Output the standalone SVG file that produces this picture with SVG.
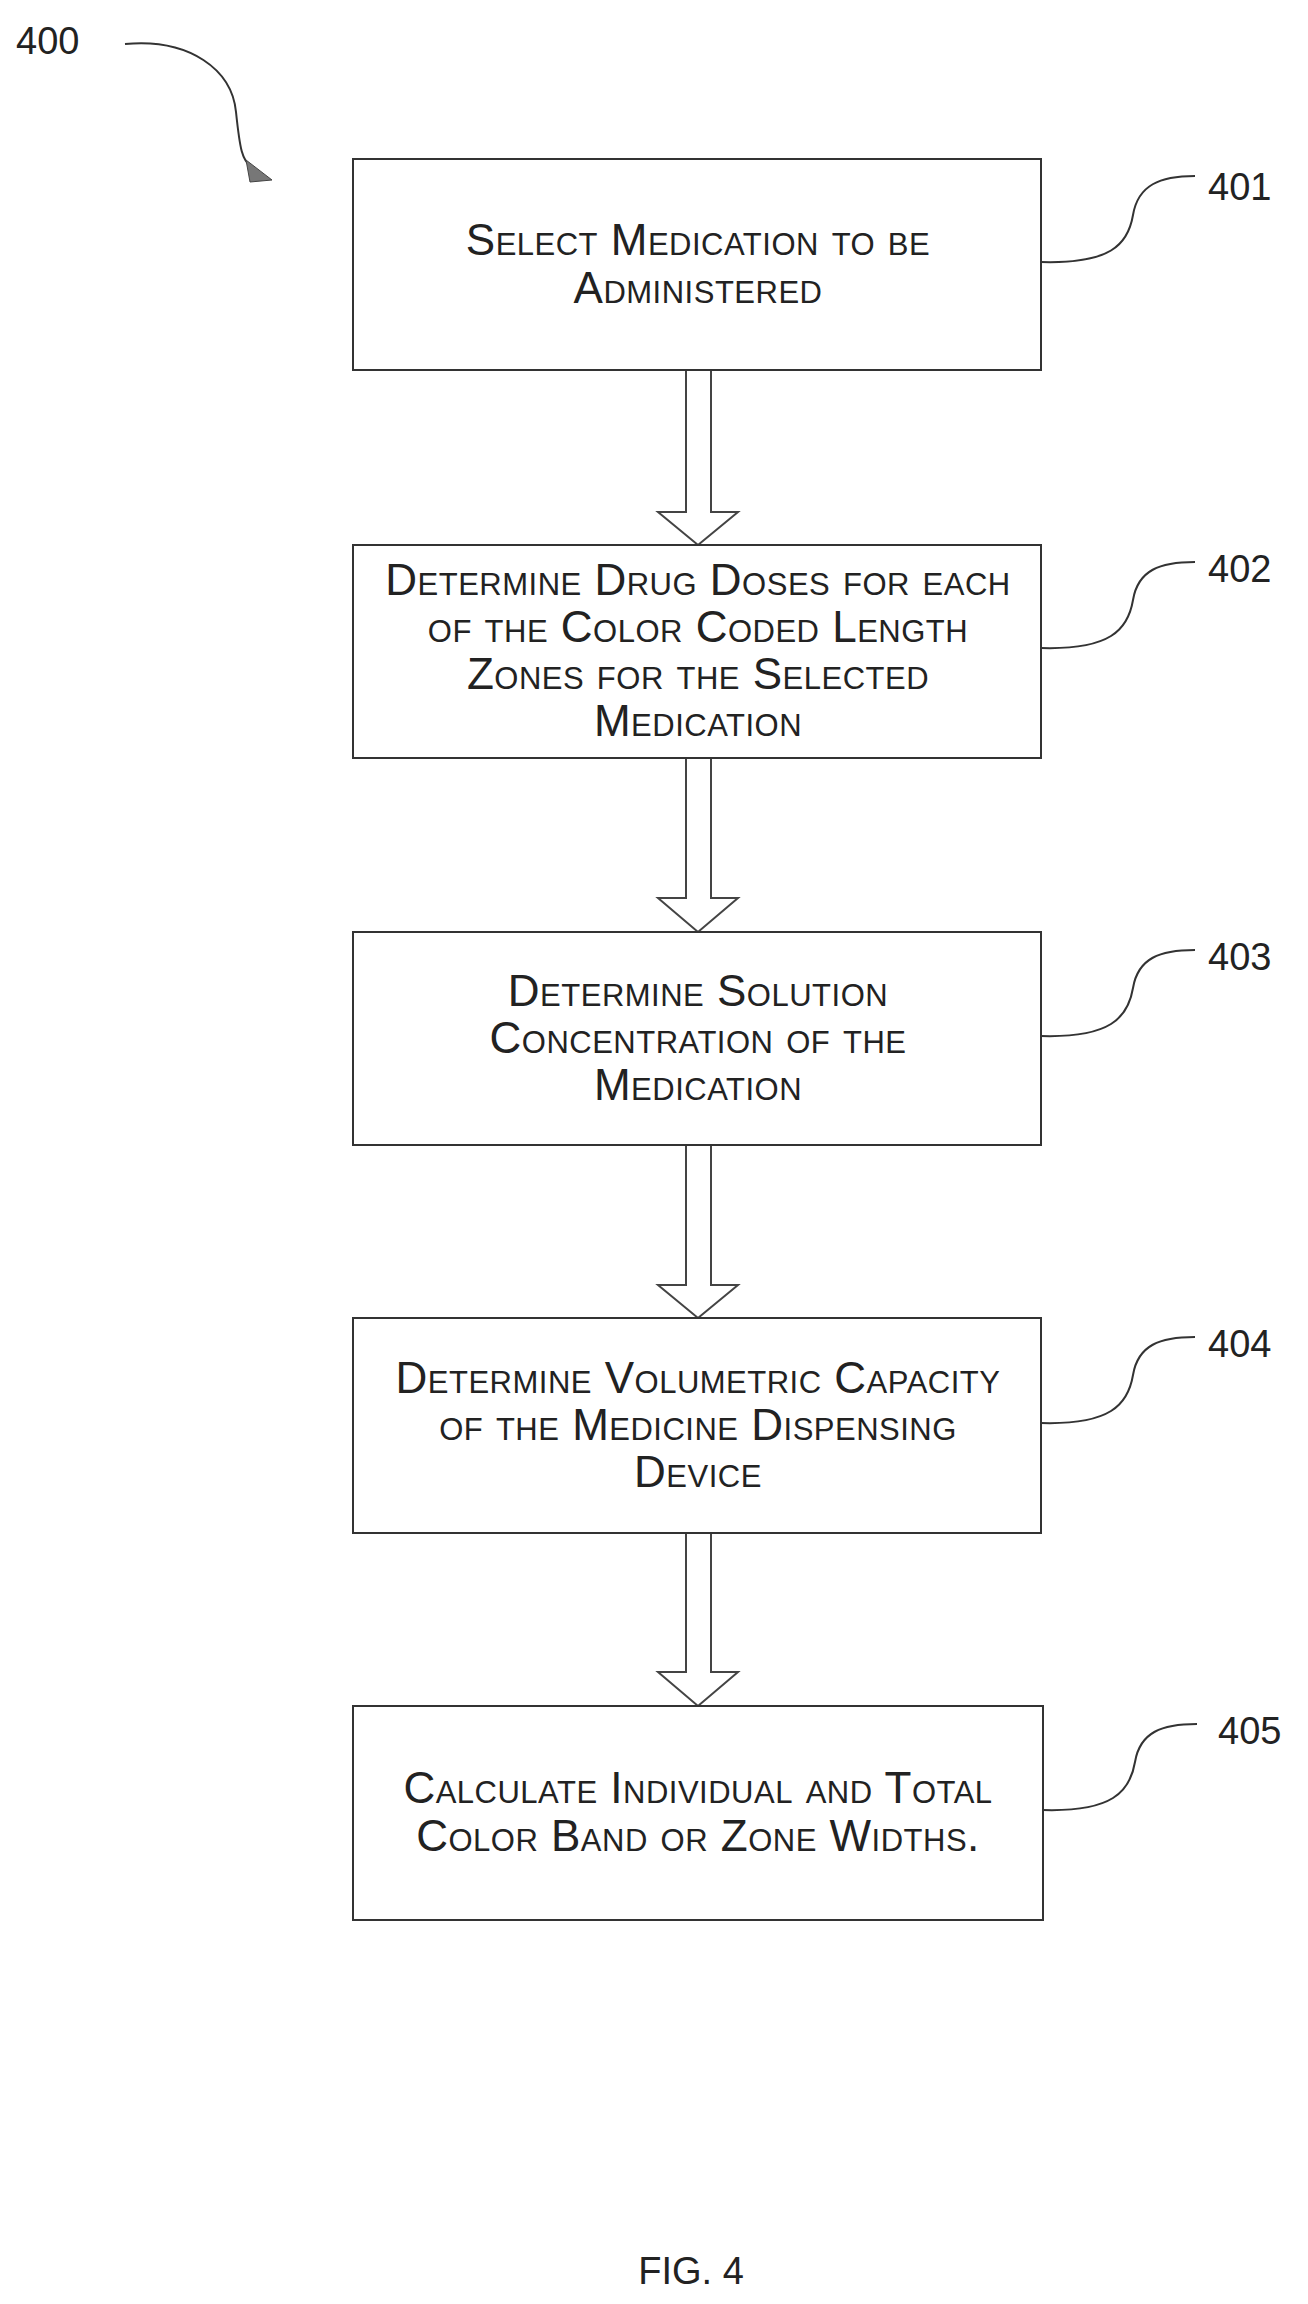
<svg xmlns="http://www.w3.org/2000/svg" width="1308" height="2304" viewBox="0 0 1308 2304">
<style>
.box{fill:#fff;stroke:#333;stroke-width:2}
.t{font-family:"Liberation Sans",Arial,sans-serif;font-size:44px;font-variant:small-caps;text-anchor:middle;fill:#222;letter-spacing:0.5px}
.lab{font-family:"Liberation Sans",Arial,sans-serif;font-size:38px;fill:#222}
.lead{fill:none;stroke:#333;stroke-width:2}
.arr{fill:#fff;stroke:#444;stroke-width:2}
</style>
<rect width="1308" height="2304" fill="#fff"/>
<text class="lab" x="16" y="54" font-size="58">400</text>
<path class="lead" d="M125,44 C190,38 232,70 236,112 C240,150 242,160 252,168"/>
<polygon points="246,160 272,180 250,182" fill="#777" stroke="#444"/>
<g id="connectors">
<polygon class="arr" points="686,370 711,370 711,512 738,512 698,545 658,512 686,512"/>
<polygon class="arr" points="686,758 711,758 711,898 738,898 698,932 658,898 686,898"/>
<polygon class="arr" points="686,1145 711,1145 711,1285 738,1285 698,1318 658,1285 686,1285"/>
<polygon class="arr" points="686,1533 711,1533 711,1672 738,1672 698,1706 658,1672 686,1672"/>
</g>
<g id="n401">
<rect class="box" x="353" y="159" width="688" height="211"/>
<text class="t" x="698" y="255">Select Medication to be</text>
<text class="t" x="698" y="303">Administered</text>
<path class="lead" d="M1041,262 C1110,264 1128,245 1133,215 C1138,185 1160,176 1195,176"/>
<text class="lab" x="1208" y="200">401</text>
</g>
<g id="n402">
<rect class="box" x="353" y="545" width="688" height="213"/>
<text class="t" x="698" y="595">Determine Drug Doses for each</text>
<text class="t" x="698" y="642">of the Color Coded Length</text>
<text class="t" x="698" y="689">Zones for the Selected</text>
<text class="t" x="698" y="736">Medication</text>
<path class="lead" d="M1041,648 C1110,650 1128,630 1133,600 C1138,570 1160,562 1195,562"/>
<text class="lab" x="1208" y="582">402</text>
</g>
<g id="n403">
<rect class="box" x="353" y="932" width="688" height="213"/>
<text class="t" x="698" y="1006">Determine Solution</text>
<text class="t" x="698" y="1053">Concentration of the</text>
<text class="t" x="698" y="1100">Medication</text>
<path class="lead" d="M1041,1036 C1110,1038 1128,1018 1133,988 C1138,958 1160,950 1195,950"/>
<text class="lab" x="1208" y="970">403</text>
</g>
<g id="n404">
<rect class="box" x="353" y="1318" width="688" height="215"/>
<text class="t" x="698" y="1393">Determine Volumetric Capacity</text>
<text class="t" x="698" y="1440">of the Medicine Dispensing</text>
<text class="t" x="698" y="1487">Device</text>
<path class="lead" d="M1041,1423 C1110,1425 1128,1405 1133,1375 C1138,1345 1160,1337 1195,1337"/>
<text class="lab" x="1208" y="1357">404</text>
</g>
<g id="n405">
<rect class="box" x="353" y="1706" width="690" height="214"/>
<text class="t" x="698" y="1803">Calculate Individual and Total</text>
<text class="t" x="698" y="1851">Color Band or Zone Widths.</text>
<path class="lead" d="M1043,1810 C1112,1812 1130,1792 1135,1762 C1140,1732 1162,1724 1197,1724"/>
<text class="lab" x="1218" y="1744">405</text>
</g>
<text class="lab" x="691" y="2284" text-anchor="middle" font-size="42">FIG. 4</text>
</svg>
